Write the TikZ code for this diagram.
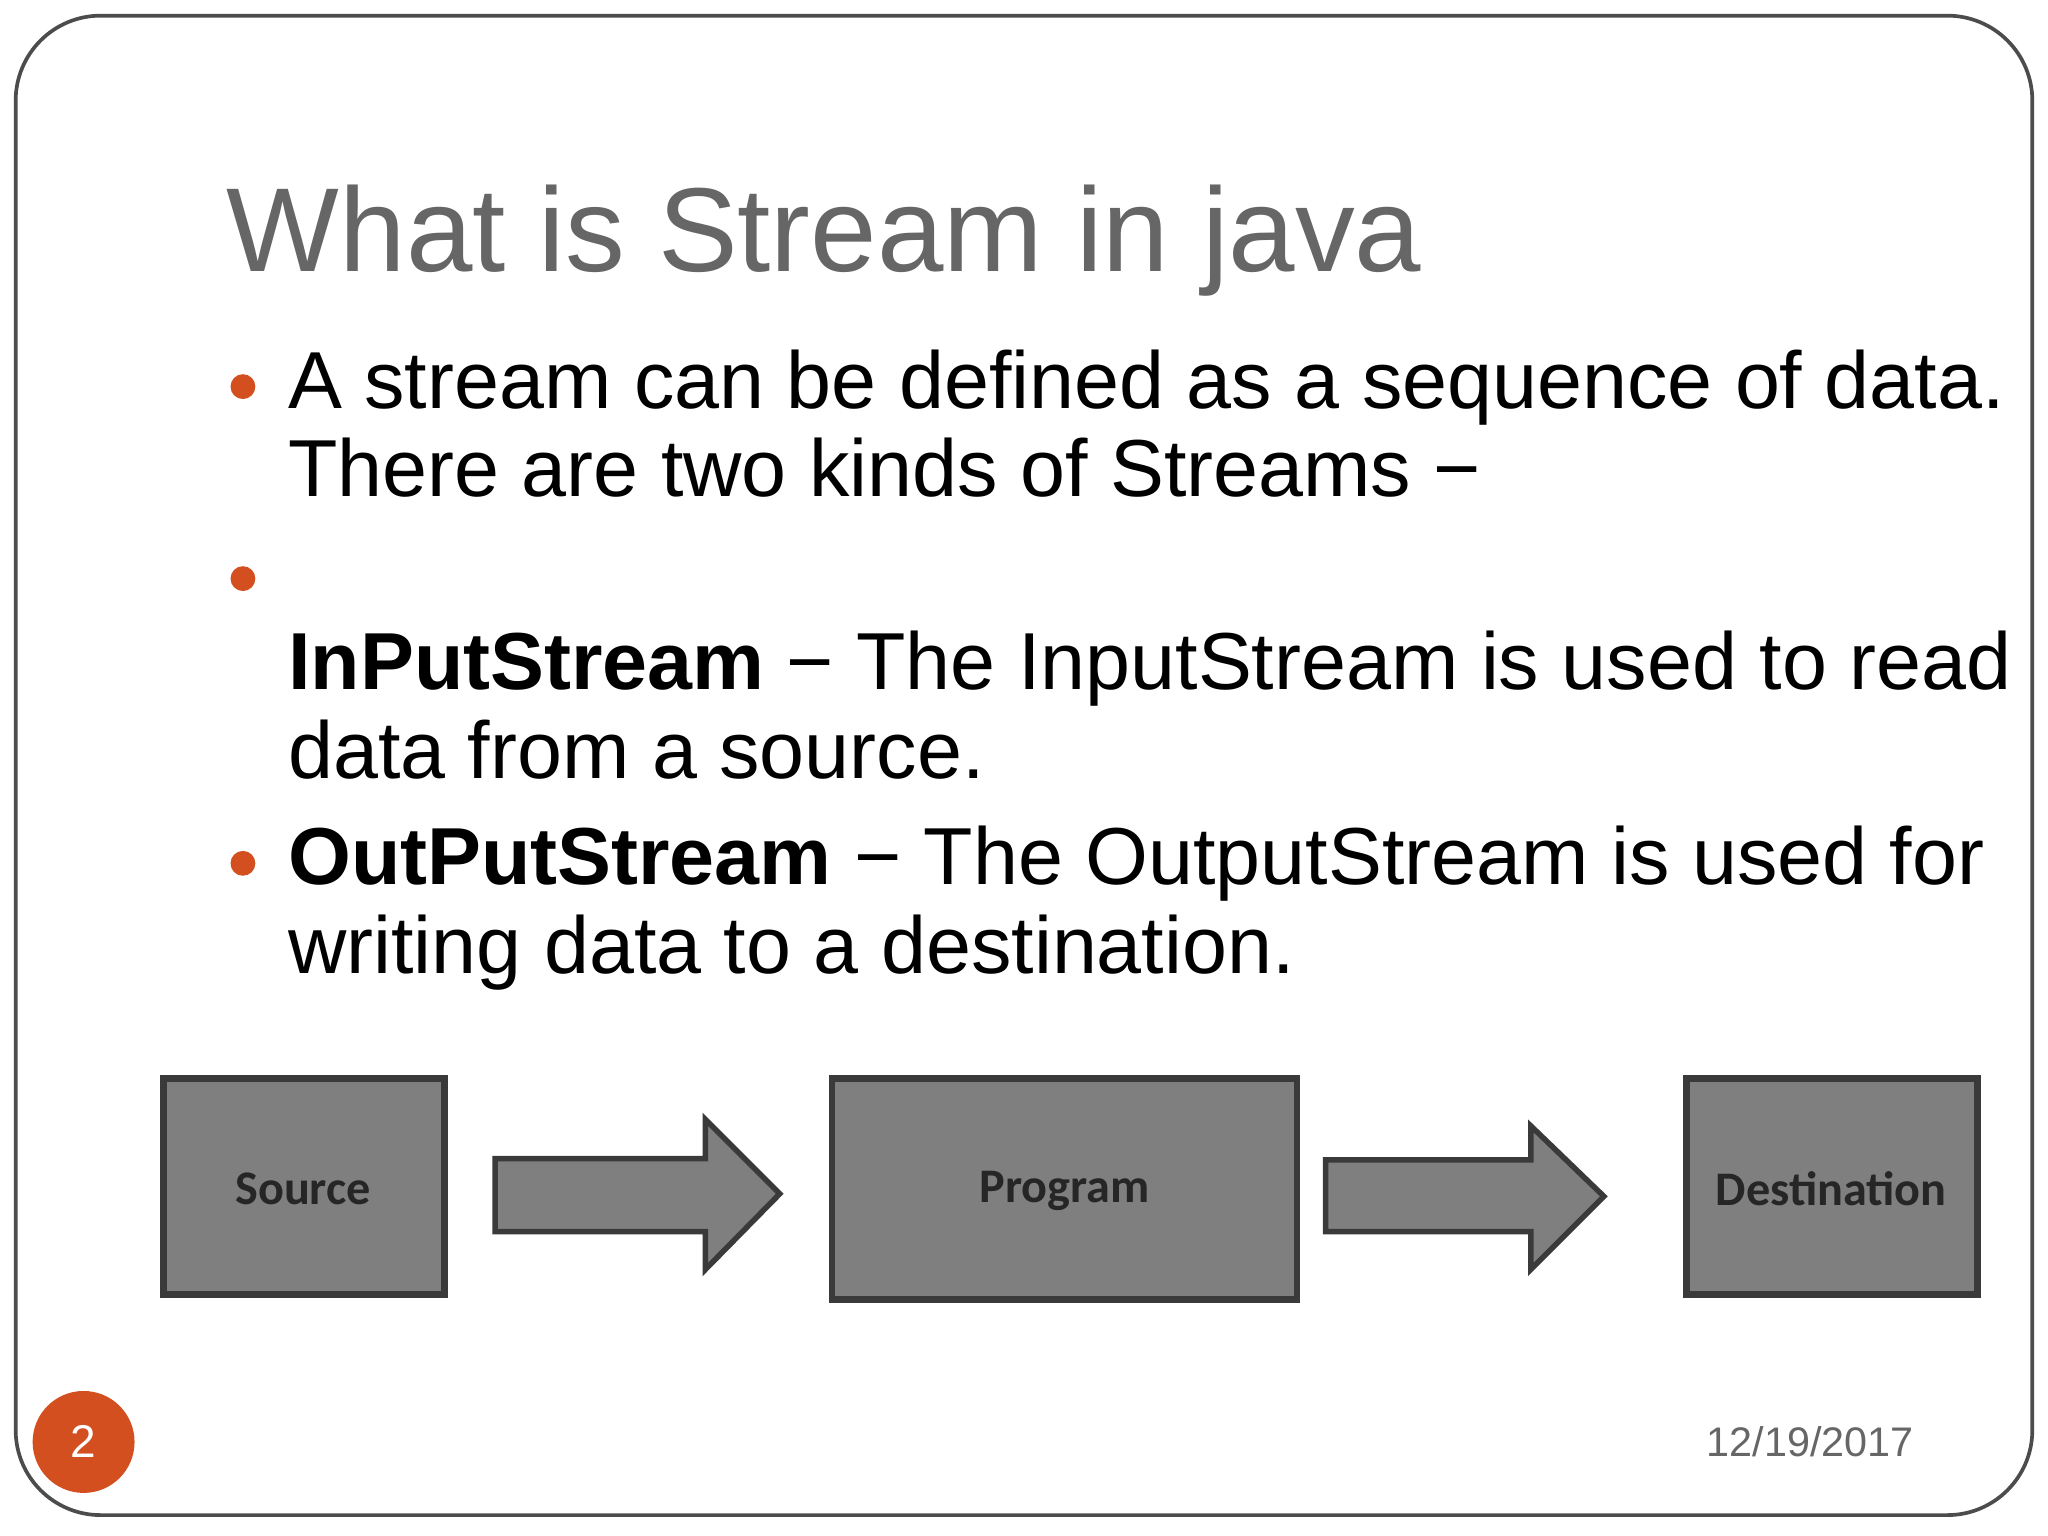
\documentclass[tikz,border=0pt]{standalone}
\usepackage{fontspec}
\setmainfont{Liberation Sans}
\newfontfamily\boxfont{Carlito}
\definecolor{titlegray}{HTML}{666666}
\definecolor{bul}{HTML}{D34F1F}
\definecolor{boxfill}{HTML}{7F7F7F}
\definecolor{boxline}{HTML}{3A3A3A}
\tikzset{
 line/.style={anchor=base west,inner sep=0pt,font=\fontsize{17.6}{20}\selectfont},
 blk/.style={draw=boxline,line width=1.5pt,fill=boxfill},
 lbl/.style={font=\boxfont\bfseries\fontsize{10.5}{12}\selectfont,text=black!85},
 bdot/.style={circle,fill=bul,minimum size=0.19cm,inner sep=0pt},
}
\begin{document}
\begin{tikzpicture}[x=0.01cm,y=-0.01cm]
\useasboundingbox (0,0) rectangle (1568,1176);
\fill[white] (0,0) rectangle (1568,1176);
\draw[black!70,line width=0.8pt,rounded corners=0.65cm] (12,12) rectangle (1556,1160);
\node[anchor=base west,inner sep=0pt,text=titlegray,font=\fontsize{26}{30}\selectfont] (title) at (173,208) {What is Stream in java};
\node[bdot] (b1) at (186,296) {};
\node[bdot] (b2) at (186,443) {};
\node[bdot] (b3) at (186,661) {};
\node[line] (l1) at (220,313) {A stream can be defined as a sequence of data.};
\node[line] (l2) at (220,380) {There are two kinds of Streams \textminus};
\node[line] (l3) at (220,528) {\textbf{InPutStream} \textminus\ The InputStream is used to read};
\node[line] (l4) at (220,596) {data from a source.};
\node[line] (l5) at (220,677) {\textbf{OutPutStream} \textminus\ The OutputStream is used for};
\node[line] (l6) at (220,745) {writing data to a destination.};
\draw[blk] (125,826) rectangle (340,991);
\node[lbl] (src) at (232,910) {Source};
\draw[blk] (637,826) rectangle (993,995);
\node[lbl] (prg) at (815,912) {Program};
\draw[blk] (1291,826) rectangle (1514,991);
\node[lbl] (dst) at (1402,910) {Destination};
\draw[blk,line width=1.2pt] (379,887) -- (540,887) -- (540,857) -- (597,914) -- (540,972) -- (540,943) -- (379,943) -- cycle;
\draw[blk,line width=1.2pt] (1015,888) -- (1172,888) -- (1172,862) -- (1228,916) -- (1172,972) -- (1172,943) -- (1015,943) -- cycle;
\node[circle,fill=bul,minimum size=0.78cm,inner sep=0pt,text=white,font=\fontsize{10}{12}\selectfont] (pg) at (64,1104) {2};
\node[anchor=east,inner sep=0pt,text=black!60,font=\fontsize{9}{11}\selectfont] (date) at (1466,1104) {12/19/2017};
\end{tikzpicture}
\end{document}
